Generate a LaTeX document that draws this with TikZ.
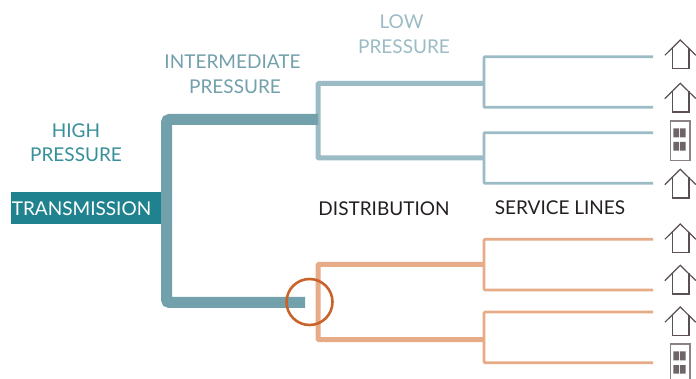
\documentclass[tikz,border=0pt]{standalone}
\usepackage{fontspec}
\setmainfont{Lato}
\definecolor{teal1}{HTML}{21828F}
\definecolor{teal2}{HTML}{72A0AB}
\definecolor{teal3}{HTML}{9BBBC5}
\definecolor{oran1}{HTML}{E8AB87}
\definecolor{circ1}{HTML}{C9632B}
\definecolor{hous1}{HTML}{5A5053}
\definecolor{bldg1}{HTML}{8A8284}
\definecolor{bldg2}{HTML}{6E6568}
\definecolor{txt1}{HTML}{231F20}
\tikzset{
  x=1pt,y=-1pt,
  label1/.style={font=\fontsize{19}{24.5}\selectfont,align=center,inner sep=0pt},
  trunk/.style={draw=teal2,line width=11pt,rounded corners=3pt},
  mainlow/.style={line width=5pt,rounded corners=1pt},
  service/.style={line width=2.8pt,rounded corners=1pt},
  pics/house/.style={code={
    \draw[hous1,line width=1.2pt,line join=miter] (-15.5,15.3) -- (0,0) -- (15.5,15.3);
    \draw[hous1,line width=1.2pt] (-8,8) -- (-8,28.7) -- (8.7,28.7) -- (8.7,8);
  }},
  pics/tower/.style={code={
    \draw[bldg1,line width=1.1pt] (0,0) rectangle (19.7,39.7);
    \fill[bldg2] (3,7.3) rectangle (8.7,16.3) (9.7,7.3) rectangle (15.4,16.3)
                 (3,21) rectangle (8.7,29.7) (9.7,21) rectangle (15.4,29.7);
  }}
}
\begin{document}
\begin{tikzpicture}
\useasboundingbox (0,0) rectangle (696,379);
\clip (0,0) rectangle (696,379);
% junction coordinates
\coordinate (tt) at (318,119.5);
\coordinate (tb) at (305,302.5);
\coordinate (tk) at (166.5,119.5);
\coordinate (tl) at (166.5,302.5);
\coordinate (ua) at (484,83.5);
\coordinate (ub) at (484,158);
\coordinate (uc) at (318,83.5);
\coordinate (ud) at (318,158);
\coordinate (la) at (484,264.5);
\coordinate (lb) at (484,339.5);
\coordinate (lc) at (318,264.5);
\coordinate (ld) at (318,339.5);
\coordinate (s1) at (653,56.7);
\coordinate (s2) at (653,107.3);
\coordinate (s3) at (653,132.7);
\coordinate (s4) at (653,183.3);
\coordinate (s5) at (653,239.3);
\coordinate (s6) at (653,290);
\coordinate (s7) at (653,312);
\coordinate (s8) at (653,362.7);
\coordinate (c1) at (484,56.7);
\coordinate (c2) at (484,107.3);
\coordinate (c3) at (484,132.7);
\coordinate (c4) at (484,183.3);
\coordinate (c5) at (484,239.3);
\coordinate (c6) at (484,290);
\coordinate (c7) at (484,312);
\coordinate (c8) at (484,362.7);
% low pressure
\draw[teal3,mainlow] (ua) -- (uc) -- (ud) -- (ub);
\draw[teal3,service] (s1) -- (c1) -- (c2) -- (s2);
\draw[teal3,service] (s3) -- (c3) -- (c4) -- (s4);
% orange
\draw[oran1,mainlow] (la) -- (lc) -- (ld) -- (lb);
\draw[oran1,service] (s5) -- (c5) -- (c6) -- (s6);
\draw[oran1,service] (s7) -- (c7) -- (c8) -- (s8);
% trunk
\draw[trunk] (tt) -- (tk) -- (tl) -- (tb);
% transmission
\node[fill=teal1,minimum width=150pt,minimum height=32pt,inner sep=0pt] (txbox) at (86,208) {};
\node[label1,text=white] (tx) at (81.5,208.5) {TRANSMISSION};
% circle
\node[circle,draw=circ1,line width=2.6pt,minimum size=46pt,inner sep=0pt] (cc) at (309.5,302) {};
% labels
\node[label1,text=teal1!90!white] (hp) at (76,142.5) {HIGH\\PRESSURE};
\node[label1,text=teal2] (ip) at (232.5,74.5) {INTERMEDIATE\\\hspace*{5pt}PRESSURE};
\node[label1,text=teal3] (lp) at (404,34) {\hspace*{-5pt}LOW\\PRESSURE};
\node[label1,text=txt1] (di) at (384,208.5) {DISTRIBUTION};
\node[label1,text=txt1] (sl) at (560,207.5) {SERVICE LINES};
% houses
\path (680.3,40) pic {house} (680.3,83.3) pic {house} (680.3,169.3) pic {house}
      (680.3,224) pic {house} (680.3,265.3) pic {house} (680.3,307) pic {house};
\path (670.3,121) pic {tower} (670.3,344) pic {tower};
\end{tikzpicture}
\end{document}
